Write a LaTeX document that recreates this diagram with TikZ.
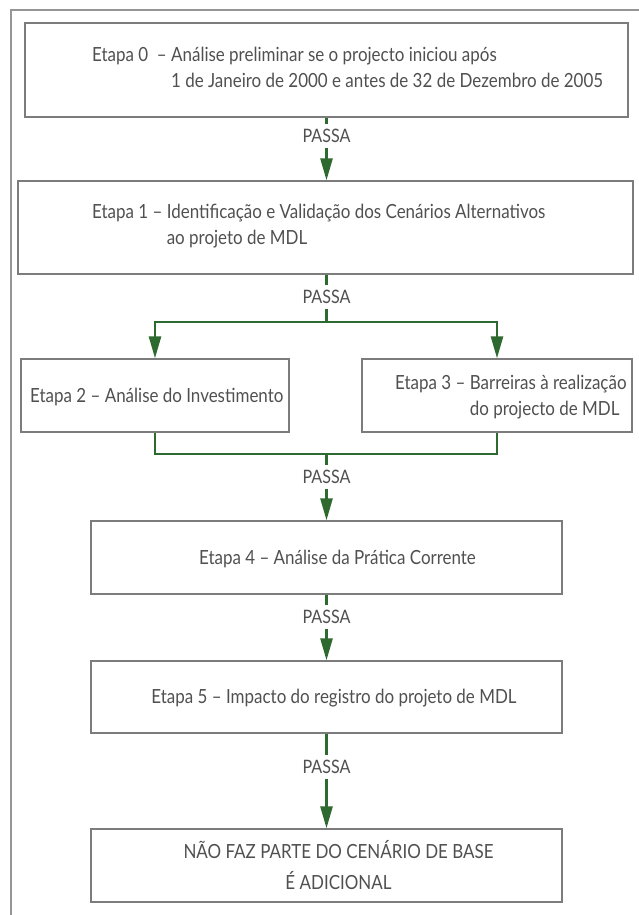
\documentclass[tikz,border=0pt]{standalone}
\usepackage{fontspec}
\setmainfont{Lato}[FakeStretch=0.87]
\usetikzlibrary{arrows.meta}
\definecolor{arrgreen}{HTML}{2E6A30}
\definecolor{boxgray}{HTML}{7C7C7C}
\definecolor{txtgray}{HTML}{505050}
\begin{document}
\begin{tikzpicture}[x=1pt,y=-1pt,
  box/.style={draw=boxgray,line width=1.3pt,inner sep=0pt},
  txt/.style={text=txtgray,font=\fontsize{19.5}{26}\selectfont,inner sep=0pt},
  passa/.style={text=txtgray,font=\fontsize{18.5}{21}\selectfont,fill=white,inner xsep=2pt,inner ysep=5pt},
  conn/.style={draw=arrgreen,line width=2.6pt},
  arr/.style={conn,-{Triangle[length=22pt,width=12pt]}}]
\useasboundingbox (0,0) rectangle (639,915);
% outer frame
\draw[boxgray!80,line width=1.2pt] (11,915) -- (11,10) -- (639,10);
% boxes
\node[box,minimum width=603pt,minimum height=94pt] (b0) at (326.5,70) {};
\node[box,minimum width=615pt,minimum height=93pt] (b1) at (325.5,227.5) {};
\node[box,minimum width=268pt,minimum height=73pt] (b2) at (155,395.5) {};
\node[box,minimum width=270pt,minimum height=73pt] (b3) at (497,395.5) {};
\node[box,minimum width=471pt,minimum height=73pt] (b4) at (326.5,557.5) {};
\node[box,minimum width=471pt,minimum height=72pt] (b5) at (326.5,697) {};
\node[box,minimum width=471pt,minimum height=73pt] (b6) at (326.5,865.5) {};
% texts (multi-line nodes anchored at the baseline of their last line)
\node[txt,anchor=base west,align=left] (t0) at (92,88) {Etapa 0 \ – Análise preliminar se o projecto iniciou após\\\phantom{Etapa 0 \ – }1 de Janeiro de 2000 e antes de 32 de Dezembro de 2005};
\node[txt,anchor=base west,align=left] (t1) at (92,244) {Etapa 1 – Identificação e Validação dos Cenários Alternativos\\\phantom{Etapa 1 – }ao projeto de MDL};
\node[txt,anchor=base west] (t2) at (30,402) {Etapa 2 – Análise do Investimento};
\node[txt,anchor=base west,align=left] (t3) at (395,415) {Etapa 3 – Barreiras à realização\\\phantom{Etapa 3 – }do projecto de MDL};
\node[txt,anchor=base] (t4) at (337.5,564) {Etapa 4 – Análise da Prática Corrente};
\node[txt,anchor=base] (t5) at (334,703) {Etapa 5 – Impacto do registro do projeto de MDL};
\node[txt,anchor=base,align=center,font=\fontsize{19.5}{31}\selectfont] (t6) at (338.5,889) {NÃO FAZ PARTE DO CENÁRIO DE BASE\\É ADICIONAL};
% junctions
\coordinate (j1) at (326.5,322);
\coordinate (j2) at (326.5,454);
% connectors
\draw[arr] (b0.south) -- (b1.north -| b0.south);
\draw[conn] (b1.south -| j1) -- (j1);
\draw[arr] (j1) -| (b2.north);
\draw[arr] (j1) -| (b3.north);
\draw[conn] (b2.south) |- (j2) -| (b3.south);
\draw[arr] (j2) -- (b4.north);
\draw[arr] (b4.south) -- (b5.north);
\draw[arr] (b5.south) -- (b6.north);
% labels
\node[passa] (p0) at (326.5,136) {PASSA};
\node[passa] (p1) at (326.5,297) {PASSA};
\node[passa] (p2) at (326.5,477) {PASSA};
\node[passa] (p3) at (326.5,617) {PASSA};
\node[passa] (p4) at (326.5,767) {PASSA};
\end{tikzpicture}
\end{document}
